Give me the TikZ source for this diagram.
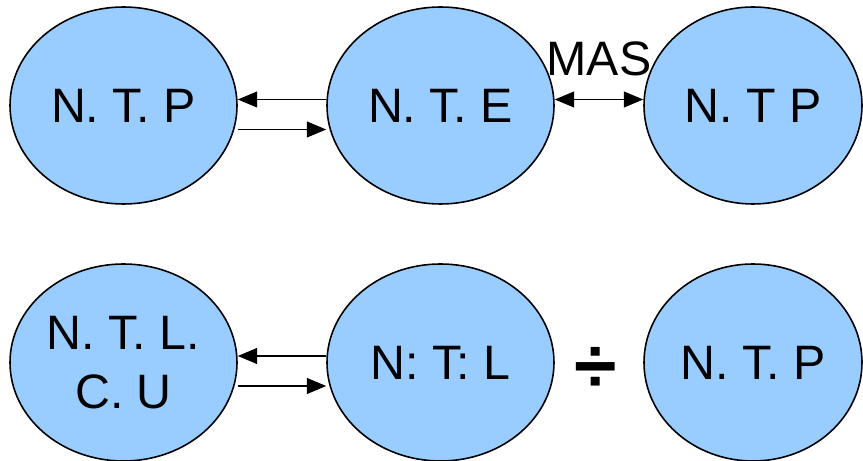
\documentclass[tikz,border=0pt]{standalone}
\usepackage{fontspec}
\setmainfont{Liberation Sans}
\usetikzlibrary{shapes.geometric,arrows.meta}
\definecolor{cellblue}{HTML}{99CCFF}

\begin{document}
\begin{tikzpicture}[
    unit/.style={ellipse, draw, fill=cellblue, line width=0.9pt,
      minimum width=4.54cm, minimum height=3.94cm, inner sep=0pt,
      align=center, font=\fontsize{27.5}{34}\selectfont},
    narrowunit/.style={unit, minimum width=4.36cm},
    link/.style={line width=0.9pt, -{Triangle[length=11pt,width=9pt]}},
    bothlink/.style={line width=0.9pt, {Triangle[length=11pt,width=9pt]}-{Triangle[length=11pt,width=9pt]}}
  ]
    \useasboundingbox (0,0) rectangle (17.26,-9.22);
    % Top row of cells
    \node[unit] (ntpa) at (2.47,-2.11) {N. T. P};
    \node[unit] (nte) at (8.81,-2.11) {N. T. E};
    \node[narrowunit] (ntpb) at (15.06,-2.11) {N. T P};
    % Bottom row of cells
    \node[unit] (ntlcu) at (2.47,-7.25) {N. T. L.\\C. U};
    \node[unit] (ntl) at (8.81,-7.25) {N: T: L};
    \node[narrowunit] (ntpc) at (15.06,-7.25) {N. T. P};
    % Arrows between the top cells
    \draw[link] ([yshift=0.12cm]nte.west) -- ([yshift=0.12cm]ntpa.east);
    \draw[link] ([yshift=-0.48cm]ntpa.east) -- ([yshift=-0.48cm]nte.west);
    \draw[bothlink] ([yshift=0.12cm]nte.east) -- ([yshift=0.12cm]ntpb.west)
      node[midway, anchor=base, yshift=0.48cm, font=\fontsize{27.5}{34}\selectfont] (mas) {MAS};
    % Arrows between the bottom cells
    \draw[link] ([yshift=0.13cm]ntl.west) -- ([yshift=0.13cm]ntlcu.east);
    \draw[link] ([yshift=-0.47cm]ntlcu.east) -- ([yshift=-0.47cm]ntl.west);
    % Division sign between the bottom right cells
    \node[font=\fontsize{44}{44}\selectfont\bfseries] (divsign) at (11.92,-7.40) {÷};
  \end{tikzpicture}
\end{document}
